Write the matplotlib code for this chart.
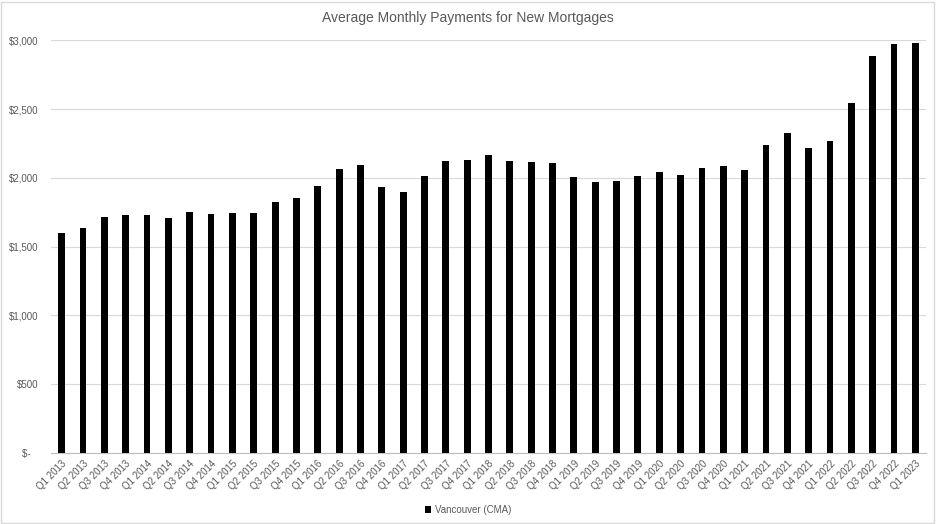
import matplotlib.pyplot as plt
from matplotlib.patches import Rectangle

quarters = []
for year in range(2013, 2024):
    for q in range(1, 5):
        quarters.append("Q%d %d" % (q, year))
quarters = quarters[:41]

payments = [1600, 1635, 1717, 1728, 1728, 1710, 1754, 1739, 1746, 1743,
            1826, 1855, 1943, 2066, 2095, 1935, 1899, 2015, 2124, 2128,
            2164, 2123, 2118, 2111, 2004, 1968, 1980, 2017, 2046, 2024,
            2070, 2089, 2057, 2237, 2329, 2220, 2266, 2542, 2883, 2970,
            2980]

y_ticks = [0, 500, 1000, 1500, 2000, 2500, 3000]
y_labels = ["$-   ", "$500", "$1,000", "$1,500", "$2,000", "$2,500", "$3,000"]

plt.rcParams['font.family'] = ['Liberation Sans', 'DejaVu Sans']

fig = plt.figure(figsize=(9.36, 5.24), dpi=100)
ax = fig.add_axes([51 / 936, 1 - 453 / 524, 875 / 936, (453 - 40.3) / 524])

x = list(range(len(quarters)))
ax.bar(x, payments, width=0.32, color='black', zorder=3, label='Vancouver (CMA)')

ax.set_xlim(-0.5, len(quarters) - 0.5)
ax.set_ylim(0, 3000)
ax.set_yticks(y_ticks)
ax.set_yticklabels(y_labels)
ax.set_xticks(x)
ax.set_xticklabels(quarters, rotation=45, ha='right', rotation_mode='anchor')

ax.grid(axis='y', color='#d9d9d9', linewidth=0.8, zorder=0)
for side in ['top', 'right', 'left']:
    ax.spines[side].set_visible(False)
ax.spines['bottom'].set_color('#bfbfbf')
ax.spines['bottom'].set_linewidth(0.8)
ax.tick_params(axis='both', length=0, labelsize=7, colors='#595959')
ax.tick_params(axis='y', pad=9)
ax.tick_params(axis='x', pad=4)

fig.text(0.5, 1 - 18 / 524, "Average Monthly Payments for New Mortgages",
         ha='center', va='center', fontsize=10, color='#595959')

fig.legend(loc='center', bbox_to_anchor=(0.5, 1 - 510 / 524), frameon=False,
           fontsize=7, labelcolor='#595959', handlelength=0.6, handleheight=0.6,
           handletextpad=0.4)

# light border round the whole chart
fig.patches.append(Rectangle((0.001, 0.002), 0.997, 0.995, transform=fig.transFigure,
                             fill=False, edgecolor='#d9d9d9', linewidth=1))

fig.savefig('out.png', dpi=100)
